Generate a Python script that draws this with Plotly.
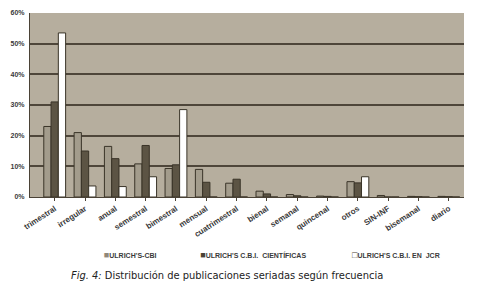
import plotly.graph_objects as go

categories = ["trimestral", "irregular", "anual", "semestral", "bimestral", "mensual",
              "cuatrimestral", "bienal", "semanal", "quincenal", "otros", "SIN-INF",
              "bisemanal", "diario"]
ulrich_cbi = [23.0, 21.0, 16.5, 10.8, 9.3, 9.0, 4.5, 1.9, 0.8, 0.3, 5.0, 0.5, 0.2, 0.2]
ulrich_cient = [31.0, 15.0, 12.5, 16.8, 10.5, 4.8, 5.8, 1.0, 0.4, 0.2, 4.6, 0.0, 0.1, 0.1]
ulrich_jcr = [53.5, 3.6, 3.4, 6.6, 28.5, 0.0, 0.0, 0.0, 0.0, 0.0, 6.6, 0.0, 0.0, 0.0]
series_names = ["ULRICH'S-CBI", "ULRICH'S C.B.I.  CIENTÍFICAS", "ULRICH'S C.B.I. EN  JCR"]
y_ticks = [0, 10, 20, 30, 40, 50, 60]
y_tick_labels = ["0%", "10%", "20%", "30%", "40%", "50%", "60%"]

colors = ["#a39c8c", "#5c5444", "#ffffff"]
glyph_colors = ["#8f887a", "#4a4236", "#4a4236"]
glyphs = ["■", "■", "□"]
outline = "#3a3428"
legends = ["legend", "legend2", "legend3"]

fig = go.Figure()
for name, vals, col in zip(series_names, [ulrich_cbi, ulrich_cient, ulrich_jcr], colors):
    fig.add_trace(go.Bar(
        x=categories, y=vals, name=name, showlegend=False,
        marker=dict(color=col, line=dict(color=outline, width=1)),
    ))
# legend entries: glyph drawn in text, symbol itself hidden
for name, gc, gl, lg in zip(series_names, glyph_colors, glyphs, legends):
    fig.add_trace(go.Scatter(
        x=[categories[0]], y=[None], mode="markers", legend=lg,
        name=f"<span style='color:{gc};font-size:9px'>{gl}</span>{name}",
        marker=dict(symbol="square", size=1, color="rgba(0,0,0,0)"),
    ))

legend_font = dict(family="Liberation Sans, Arial, sans-serif", size=7, color="#3a3a3a", weight="bold")
common_leg = dict(orientation="h", yanchor="middle", xanchor="left", y=-0.315,
                  xref="paper", yref="paper", bgcolor="rgba(0,0,0,0)", borderwidth=0,
                  font=legend_font, itemwidth=30, tracegroupgap=0)

# page body has an 8px default margin, so figure is sized/offset to compensate
fig.update_layout(
    width=471, height=278,
    margin=dict(l=22, r=15, t=5, b=89, autoexpand=False),
    paper_bgcolor="#ffffff",
    plot_bgcolor="#b6ae9e",
    barmode="group",
    bargap=0.28,
    bargroupgap=0.0,
    showlegend=True,
    legend=dict(common_leg, x=0.078),
    legend2=dict(common_leg, x=0.3),
    legend3=dict(common_leg, x=0.65),
    xaxis=dict(
        tickangle=-33,
        tickfont=dict(family="Liberation Sans, Arial, sans-serif", size=8, color="#3a3a3a", weight="bold"),
        showline=True, linecolor="#4a4236", linewidth=1,
        ticks="outside", ticklen=3, tickcolor="#4a4236",
        showgrid=False, automargin=False,
    ),
    yaxis=dict(
        range=[0, 60],
        tickvals=y_ticks, ticktext=y_tick_labels,
        tickfont=dict(family="Liberation Sans, Arial, sans-serif", size=7, color="#3a3a3a", weight="bold"),
        showgrid=True, gridcolor="#4e463a", gridwidth=1.5,
        showline=True, linecolor="#4a4236", linewidth=1,
        zeroline=False, automargin=False,
        ticks="", ticklabelstandoff=3,
    ),
    annotations=[dict(
        x=0.455, xref="paper", y=-0.424, yref="paper", xanchor="center", yanchor="middle",
        showarrow=False,
        text="<i>Fig. 4:</i> Distribución de publicaciones seriadas según frecuencia",
        font=dict(family="Liberation Sans Narrow, DejaVu Sans Condensed, sans-serif", size=11, color="#222222"),
    )],
)

fig.write_html("out.html")
